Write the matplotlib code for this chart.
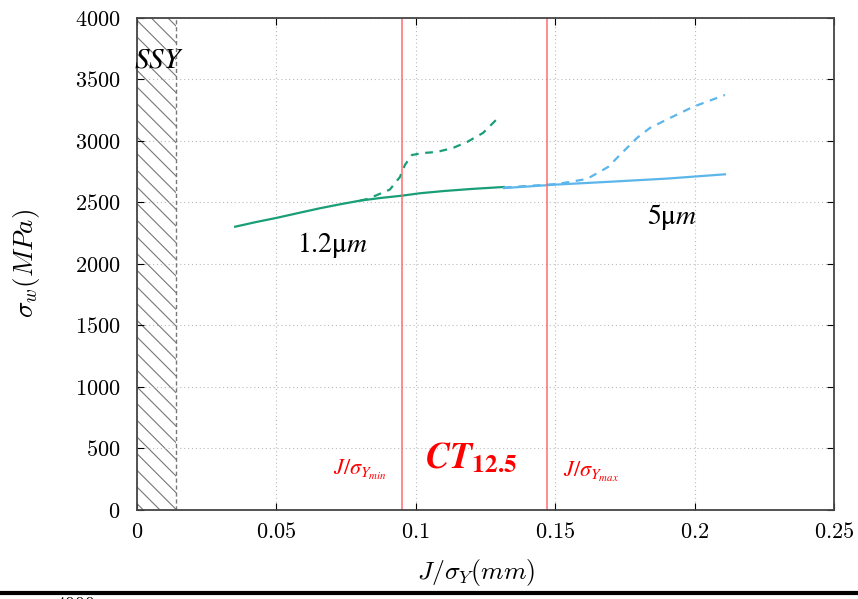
import matplotlib

matplotlib.use("Agg")

import matplotlib.pyplot as plt
from matplotlib.lines import Line2D
from matplotlib.ticker import FuncFormatter, MultipleLocator

# 1.2 um curves
g_solid_x = [0.0352, 0.0425, 0.0501, 0.0580, 0.0656, 0.0730, 0.0800, 0.0875, 0.0949, 0.1015, 0.1100, 0.1200, 0.1316]
g_solid_y = [2303, 2340, 2375, 2415, 2453, 2486, 2515, 2537, 2555, 2575, 2593, 2610, 2626]
g_dash_x = [0.0800, 0.0829, 0.0907, 0.0943, 0.0961, 0.0986, 0.1026, 0.1076, 0.1133, 0.1184, 0.1241, 0.1295]
g_dash_y = [2515, 2530, 2605, 2707, 2805, 2886, 2902, 2911, 2943, 2992, 3065, 3187]

# 5 um curves
b_solid_x = [0.1316, 0.150, 0.170, 0.190, 0.2109]
b_solid_y = [2617, 2645, 2669, 2694, 2729]
b_dash_x = [0.1316, 0.1506, 0.1614, 0.1690, 0.1732, 0.1793, 0.1840, 0.1912, 0.1994, 0.2109]
b_dash_y = [2622, 2650, 2691, 2789, 2886, 3024, 3106, 3187, 3277, 3374]

ssy_limit = 0.014
j_min, j_max = 0.095, 0.1471

plt.rcParams["mathtext.fontset"] = "cm"
plt.rcParams["hatch.linewidth"] = 0.8

fig = plt.figure(figsize=(8.58, 5.99), dpi=100)
ax = fig.add_axes([0.1597, 0.1486, 0.972 - 0.1597, 0.970 - 0.1486])

ax.axvspan(0, ssy_limit, facecolor="none", edgecolor="#777777", hatch="\\\\", lw=0)
ax.axvline(ssy_limit, color="#777777", ls=(0, (3, 2)), lw=1)

green, blue = "#1a9e77", "#5cb6ea"
ax.plot(g_solid_x, g_solid_y, color=green, lw=1.6)
ax.plot(g_dash_x, g_dash_y, color=green, lw=1.6, ls=(0, (3.5, 3)))
ax.plot(b_solid_x, b_solid_y, color=blue, lw=1.6)
ax.plot(b_dash_x, b_dash_y, color=blue, lw=1.6, ls=(0, (3.5, 3)))

for xv in (j_min, j_max):
    ax.axvline(xv, color="#ff6060", lw=1.2, alpha=0.85)

ax.set_xlim(0, 0.25)
ax.set_ylim(0, 4000)
ax.xaxis.set_major_locator(MultipleLocator(0.05))
ax.yaxis.set_major_locator(MultipleLocator(500))
ax.xaxis.set_major_formatter(FuncFormatter(lambda v, p: "$0$" if v == 0 else f"${v:g}$"))
ax.yaxis.set_major_formatter(FuncFormatter(lambda v, p: f"${v:.0f}$"))
ax.tick_params(direction="in", length=5, top=True, right=True, labelsize=16)
ax.tick_params(axis="x", pad=9)
ax.tick_params(axis="y", pad=12)
ax.grid(True, ls=(0, (1, 2.5)), color="#bbbbbb", lw=0.8)
for s in ax.spines.values():
    s.set_color("#444444")
    s.set_linewidth(1.3)

ax.set_xlabel(r"$J/\sigma_Y(mm)$", fontsize=18.5)
ax.xaxis.set_label_coords(0.486, -0.0955)
ax.set_ylabel(r"$\sigma_w(MPa)$", fontsize=19.5)
ax.yaxis.set_label_coords(-0.136, 0.502)

ax.text(0.0079, 3659, r"$SSY$", fontsize=21, ha="center", va="center", math_fontfamily="stix")
ax.text(0.070, 2154, r"$\mathrm{1.2μ}m$", fontsize=20, ha="center", va="center", math_fontfamily="stix")
ax.text(0.192, 2382, r"$\mathrm{5μ}m$", fontsize=20, ha="center", va="center", math_fontfamily="stix")
ax.text(0.080, 325, r"$J/\sigma_{Y_{min}}$", fontsize=16, color="red", ha="center", va="center",
        math_fontfamily="stix")
ax.text(0.120, 423, r"$\mathbfit{CT}_{\mathbf{12.5}}$", fontsize=26, color="red", ha="center", va="center",
        math_fontfamily="stix")
ax.text(0.163, 309, r"$J/\sigma_{Y_{max}}$", fontsize=16, color="red", ha="center", va="center",
        math_fontfamily="stix")

# border of the next panel, cropped at the bottom edge
fig.add_artist(Line2D([0, 1], [1 - 593 / 599] * 2, color="black", lw=3, transform=fig.transFigure))
fig.text(0.088, 1 - 596 / 599, "$4000$", fontsize=14, ha="center", va="top")

fig.savefig("out.png", dpi=100)
